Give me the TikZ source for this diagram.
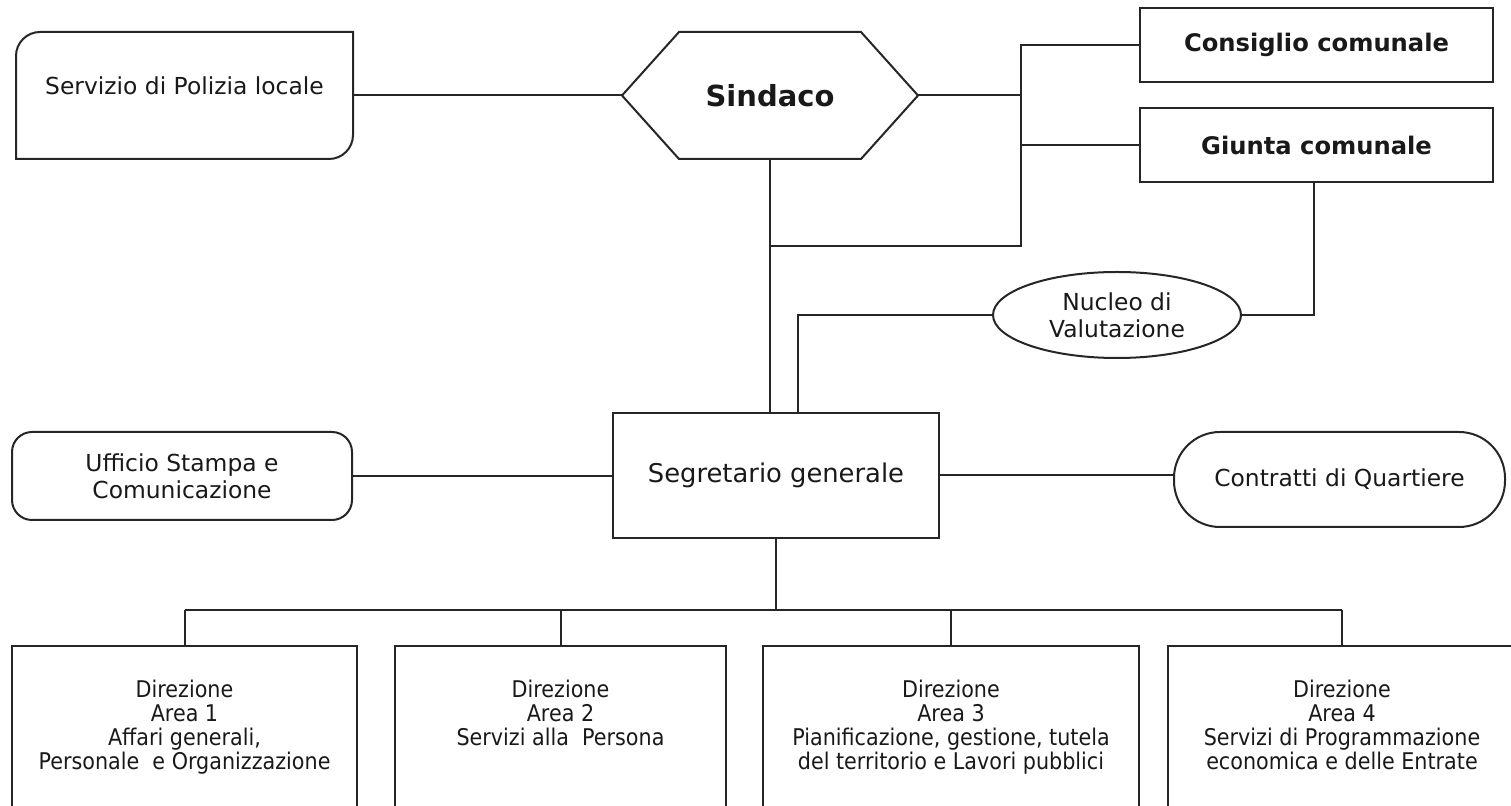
\documentclass[tikz,border=0pt]{standalone}
\usepackage{fontspec}
\setmainfont{DejaVu Sans}
\newfontfamily\narrowfont[FakeStretch=0.9]{DejaVu Sans}
\usetikzlibrary{shapes.geometric,positioning,calc}

\begin{document}
\begin{tikzpicture}[x=0.5pt,y=-0.5pt,line width=1pt,draw=black!85,text=black!90,
  txt/.style={font=\fontsize{11.7}{13.5}\selectfont,align=center,inner sep=0pt},
  boldtxt/.style={font=\fontsize{12.1}{14}\selectfont\bfseries,inner sep=0pt},
  plainbox/.style={draw,rectangle,inner sep=0pt},
  areabox/.style={draw,rectangle,minimum height=100pt,inner sep=0pt},
  areatxt/.style={font=\narrowfont\fontsize{11.5}{12}\selectfont,align=center,inner sep=0pt}]

\useasboundingbox (0,0) rectangle (1511,806);

% draw top row
\node[minimum width=167.5pt,minimum height=62.5pt,inner sep=0pt] (polizia) at (184.5,95.5) {};
\node[txt] (poliziatxt) at (184.5,86) {Servizio di Polizia locale};
\draw (polizia.west) [rounded corners=12pt] -- (polizia.north west) -- (polizia.north)
  [sharp corners] -- (polizia.north east) -- (polizia.east)
  [rounded corners=12pt] -- (polizia.south east) -- (polizia.south)
  [sharp corners] -- (polizia.south west) -- cycle;

\node[minimum width=147pt,minimum height=62.5pt,inner sep=0pt,
  font=\fontsize{14.5}{16}\selectfont\bfseries] (sindaco) at (770,95.5) {Sindaco};
\draw (sindaco.west) -- ([xshift=28.5pt]sindaco.north west) -- ([xshift=-28.5pt]sindaco.north east)
  -- (sindaco.east) -- ([xshift=-28.5pt]sindaco.south east) -- ([xshift=28.5pt]sindaco.south west) -- cycle;

\node[plainbox,boldtxt,minimum width=176.5pt,minimum height=37pt] (consiglio) at (1316.5,45) {Consiglio comunale};
\node[plainbox,boldtxt,minimum width=176.5pt,minimum height=37pt] (giunta) at (1316.5,145) {Giunta comunale};

% draw middle row
\node[plainbox,font=\fontsize{12.9}{15}\selectfont,minimum width=163pt,minimum height=62.5pt] (segretario) at (776,475.5) {Segretario generale};
\node[draw,ellipse,txt,minimum width=124pt,minimum height=43pt] (nucleo) at (1117,315) {Nucleo di\\Valutazione};
\node[draw,rounded corners=10pt,txt,minimum width=170pt,minimum height=44pt] (ufficio) at (182,476) {Ufficio Stampa e\\Comunicazione};
\node[draw,rounded corners=23pt,txt,minimum width=165.5pt,minimum height=47.5pt] (contratti) at (1339.5,479.5) {Contratti di Quartiere};

% draw connectors
\coordinate (snode) at (1021,246);
\draw (sindaco.east) -- (sindaco.east -| snode);
\draw (consiglio.west) -| (snode) -- (snode -| sindaco.south);
\draw (giunta.west) -- (giunta.west -| snode);
\draw (sindaco.south) -- (sindaco.south |- segretario.north);
\draw (polizia.east) -- (polizia.east -| sindaco.west);
\draw ([xshift=-1.5pt]giunta.south) |- (nucleo.east);
\draw (nucleo.west) -| ([xshift=11pt]segretario.north);
\draw (ufficio.east) -- (ufficio.east -| segretario.west);
\draw (segretario.east) -- (segretario.east -| contratti.west);

% draw bottom row
\node[areabox,minimum width=172.5pt] (area1) at (184.5,746) {};
\node[areabox,minimum width=165.5pt] (area2) at (560.5,746) {};
\node[areabox,minimum width=188pt] (area3) at (951,746) {};
\node[areabox,minimum width=174pt] (area4) at (1342,746) {};
\node[areatxt,below=17pt of area1.north] (area1txt) {Direzione\\Area 1\\Affari generali,\\Personale~ e Organizzazione};
\node[areatxt,below=17pt of area2.north] (area2txt) {Direzione\\Area 2\\Servizi alla~ Persona};
\node[areatxt,below=17pt of area3.north] (area3txt) {Direzione\\Area 3\\Pianificazione, gestione, tutela\\del territorio e Lavori pubblici};
\node[areatxt,below=17pt of area4.north] (area4txt) {Direzione\\Area 4\\Servizi di Programmazione\\economica e delle Entrate};

\coordinate (bus) at (776,610);
\draw (segretario.south) -- (bus);
\draw (area1.north |- bus) -- (area4.north |- bus);
\foreach \a in {1,...,4}
  \draw (area\a.north) -- (area\a.north |- bus);
\end{tikzpicture}
\end{document}
